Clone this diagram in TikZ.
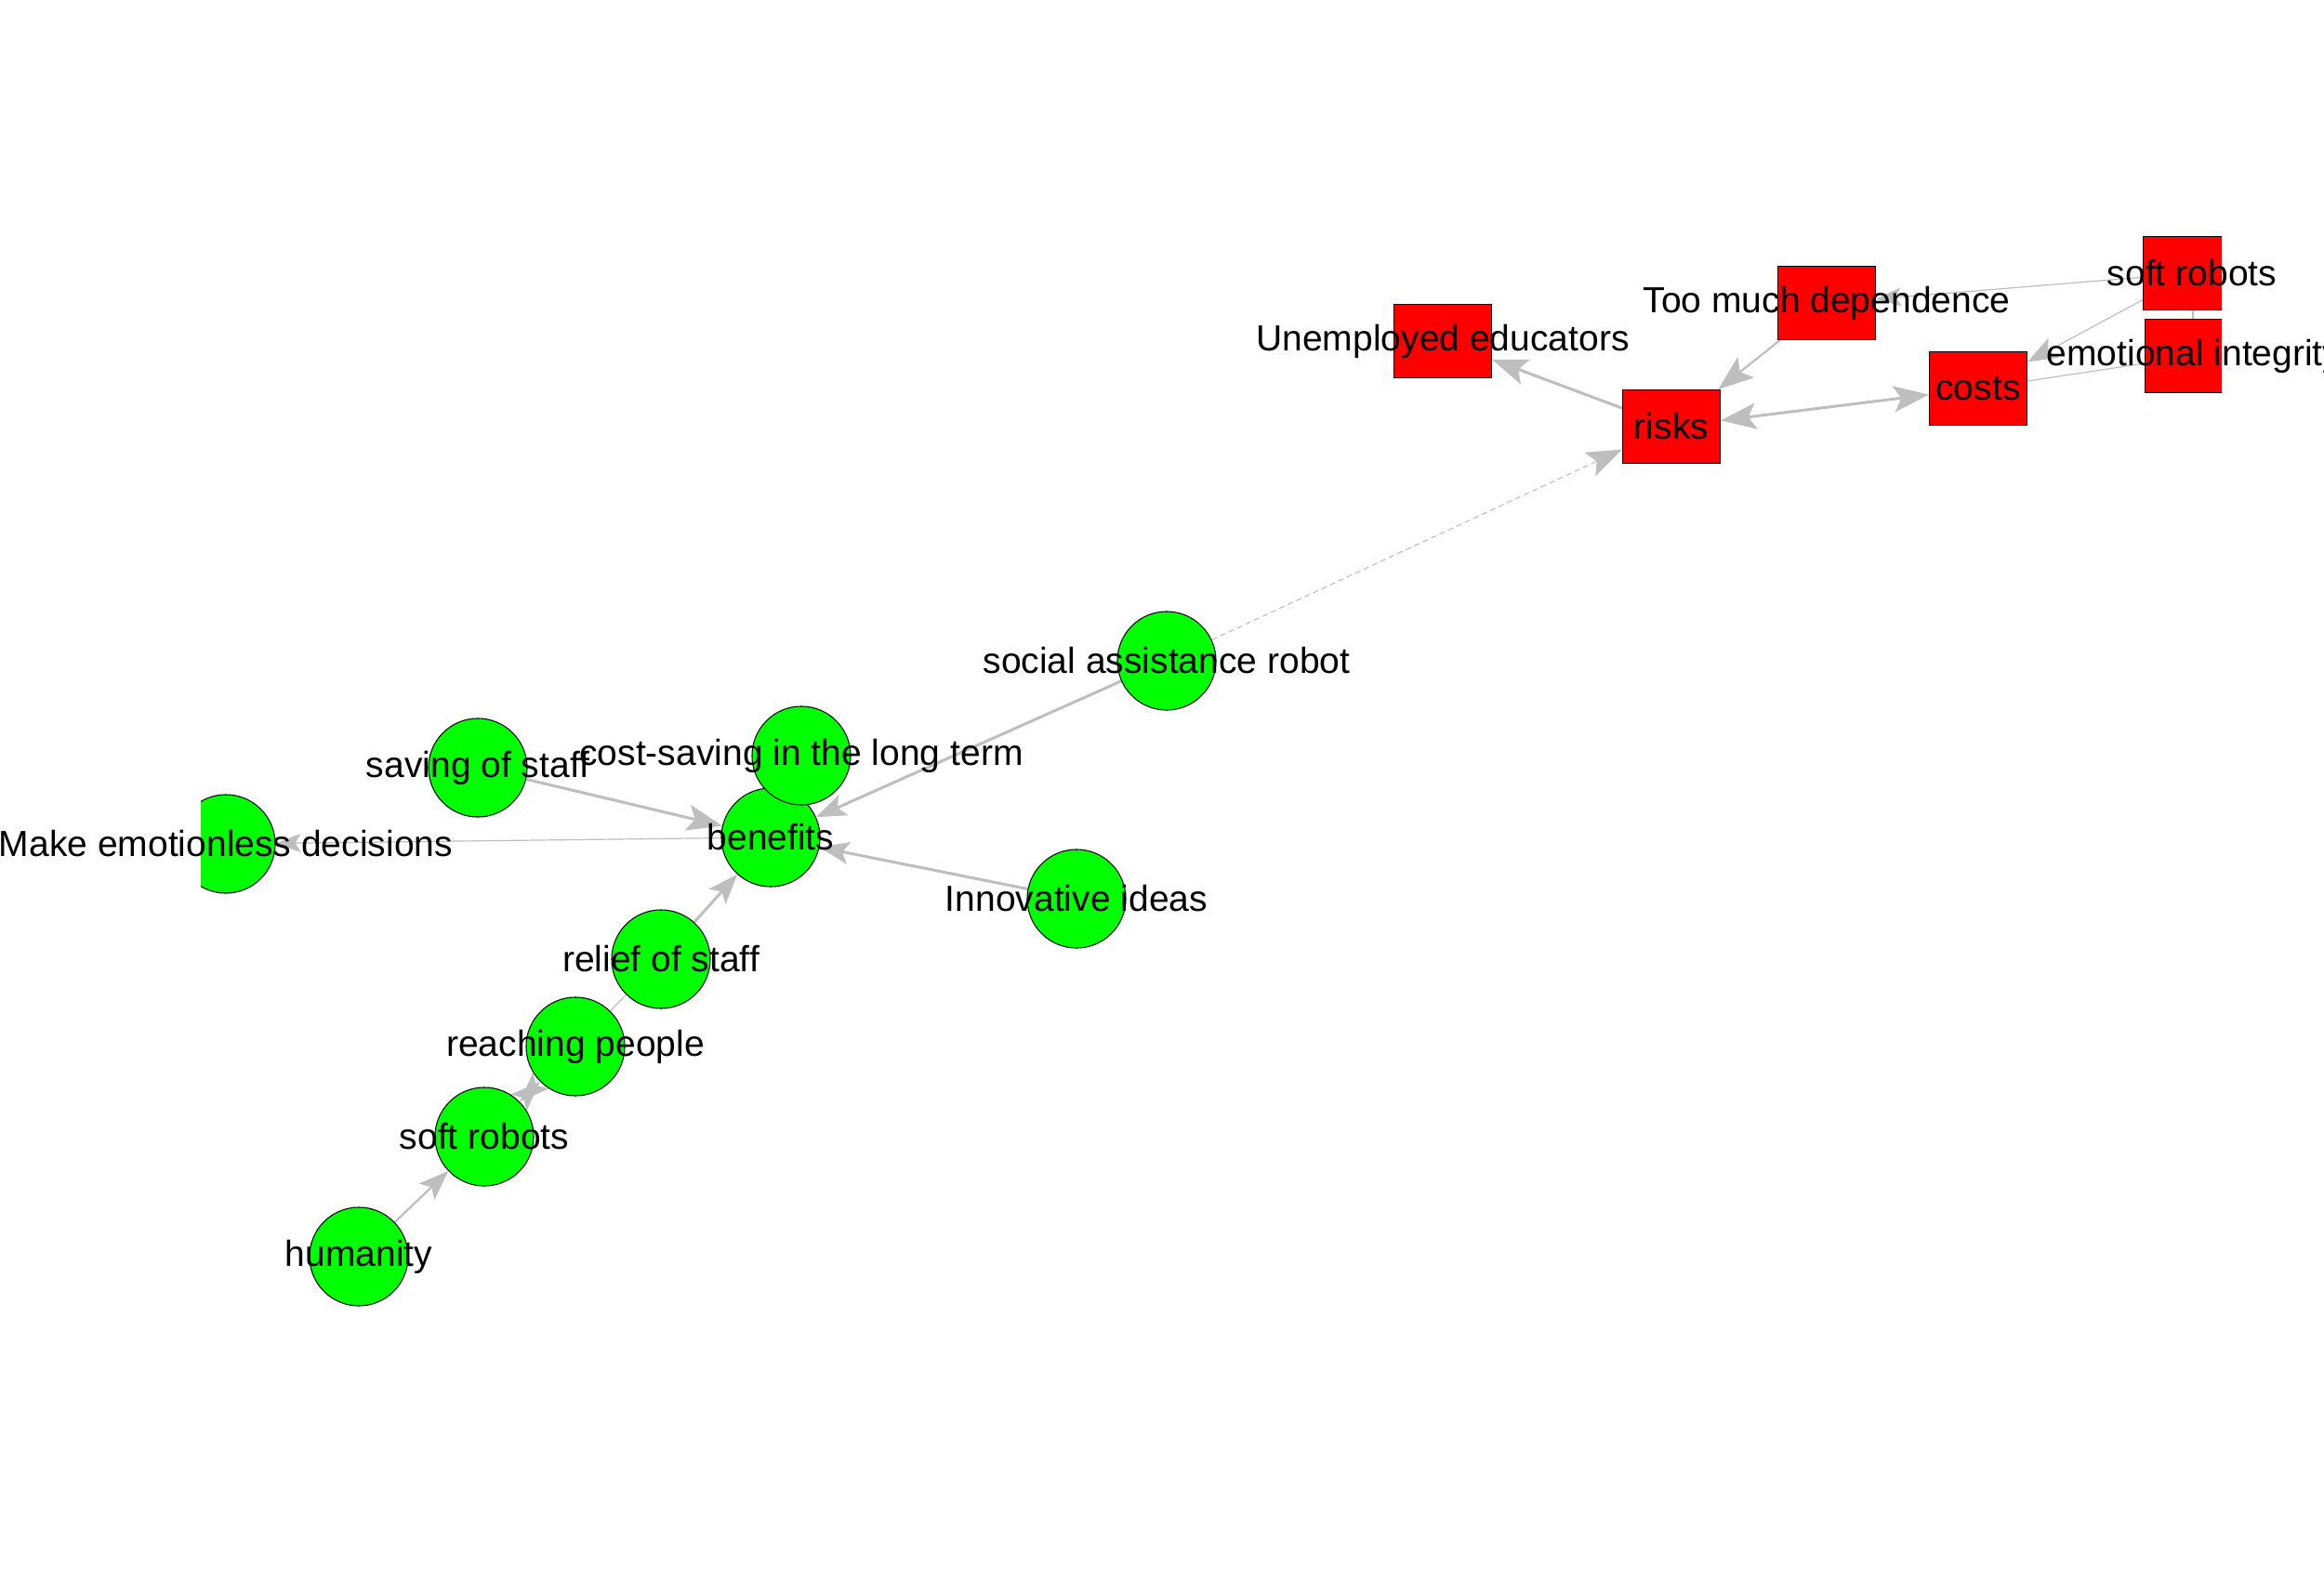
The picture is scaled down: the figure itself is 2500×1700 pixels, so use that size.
\documentclass[tikz,border=0pt]{standalone}
\usepackage{fontspec}
\setmainfont{Liberation Sans}
\usetikzlibrary{arrows.meta,backgrounds}

\definecolor{edgegray}{RGB}{190,190,190}
\definecolor{vgreen}{RGB}{0,255,0}
\definecolor{vred}{RGB}{255,0,0}

\tikzset{
  gnode/.style={circle, draw=black, line width=0.3pt, fill=vgreen,
                minimum size=1.06cm, inner sep=0pt},
  rnode/.style={rectangle, draw=black, line width=0.3pt, fill=vred,
                minimum width=1.05cm, minimum height=0.79cm, inner sep=0pt},
  lbl/.style={inner sep=0pt, font=\fontsize{11.1pt}{13pt}\selectfont},
  edge/.style={draw=edgegray},
  wbig/.style={edge, line width=0.03cm},
  wmid/.style={edge, line width=0.022cm},
  wthin/.style={edge, line width=0.012cm},
  wdash/.style={edge, line width=0.011cm, dash pattern=on 0.06cm off 0.04cm},
  tipbig/.tip={Stealth[length=0.38cm, width=0.28cm, inset=0.08cm]},
  tipmid/.tip={Stealth[length=0.32cm, width=0.24cm, inset=0.07cm]},
  tipsmall/.tip={Stealth[length=0.27cm, width=0.2cm, inset=0.06cm]},
}

\begin{document}
\begin{tikzpicture}[x=0.01cm, y=-0.01cm]
\useasboundingbox (0,0) rectangle (2500,1700);

% vertices (shapes are clipped to the plotting region)
\begin{scope}
  \clip (216,0) rectangle (2390,1700);
  % benefits side
  \node[gnode] (humanity)    at (386,1352) {};
  \node[gnode] (softg)       at (521,1223) {};
  \node[gnode] (reach)       at (619,1126) {};
  \node[gnode] (relief)      at (711,1032) {};
  \node[gnode] (saving)      at (514,826)  {};
  \node[gnode] (emotionless) at (243,908)  {};
  \node[gnode] (benefits)    at (829,901)  {};
  \node[gnode] (costsave)    at (862,813)  {};
  \node[gnode] (innov)       at (1158,967) {};
  \node[gnode] (social)      at (1255,711) {};
  % risks side
  \node[rnode] (unemp)       at (1552,367) {};
  \node[rnode] (depend)      at (1965,326) {};
  \node[rnode] (risks)       at (1798,459) {};
  \node[rnode] (costs)       at (2128,418) {};
  \node[rnode] (softr)       at (2358,294) {};
  \node[rnode] (emotional)   at (2360,383) {};
\end{scope}

% edges, drawn beneath the vertices
\begin{pgfonlayer}{background}
  \fill[white] (0,0) rectangle (2500,1700);
  \draw[wmid, -tipmid] (humanity) -- (softg);
  \draw[wmid, tipmid-tipmid] (softg) -- (reach);
  \draw[wthin] (reach) -- (relief);
  \draw[wbig, -tipmid] (relief) -- (benefits);
  \draw[wbig, -tipbig] (saving) -- (benefits);
  \draw[wthin, -tipsmall] (benefits) -- (emotionless);
  \draw[wbig, -tipmid] (social) -- (benefits);
  \draw[wbig, -tipmid] (innov) -- (benefits);
  \draw[wdash, -tipbig] (social) -- (risks);
  \draw[wbig, -tipbig] (risks) -- (unemp);
  \draw[wmid, -tipbig] (depend) -- (risks);
  \draw[wbig, tipbig-tipbig] (risks) -- (costs);
  \draw[wthin, -tipsmall] (softr) -- (depend);
  \draw[wthin, -tipmid] (softr) -- (costs);
  \draw[wthin] (emotional) -- (costs);
  \draw[wmid] (softr) -- (emotional);
\end{pgfonlayer}

% vertex labels on top
\node[lbl] (humanity-t)    at (humanity)    {humanity};
\node[lbl] (softg-t)       at (softg)       {soft robots};
\node[lbl] (reach-t)       at (reach)       {reaching people};
\node[lbl] (relief-t)      at (relief)      {relief of staff};
\node[lbl] (saving-t)      at (saving)      {saving of staff};
\node[lbl] (emotionless-t) at (emotionless) {Make emotionless decisions};
\node[lbl] (benefits-t)    at (benefits)    {benefits};
\node[lbl] (costsave-t)    at (costsave)    {cost-saving in the long term};
\node[lbl] (innov-t)       at (innov)       {Innovative ideas};
\node[lbl] (social-t)      at (social)      {social assistance robot};
\node[lbl] (unemp-t)       at (unemp)       {Unemployed educators};
\node[lbl] (depend-t)      at (depend)      {Too much dependence};
\node[lbl] (risks-t)       at (risks)       {risks};
\node[lbl] (costs-t)       at (costs)       {costs};
\node[lbl] (softr-t)       at (softr)       {soft robots};
\node[lbl] (emotional-t)   at (emotional)   {emotional integrity};
\end{tikzpicture}
\end{document}
